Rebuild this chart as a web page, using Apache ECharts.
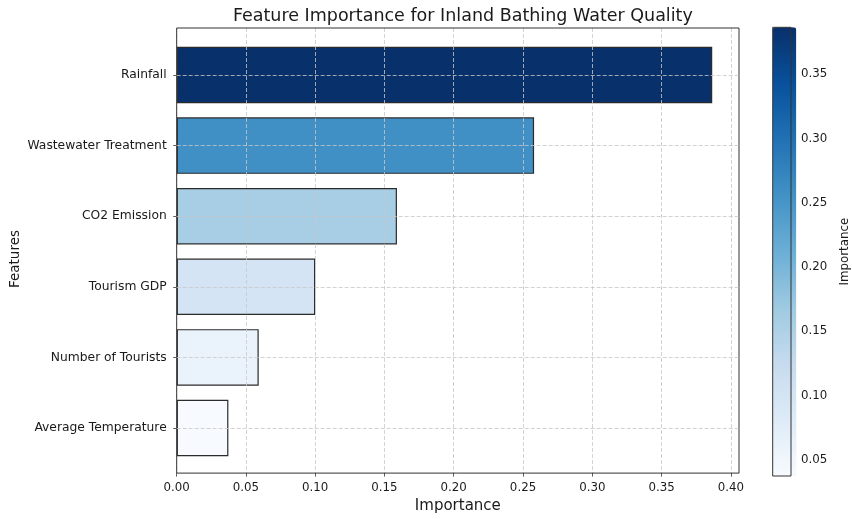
<!DOCTYPE html>
<html>
<head>
<meta charset="utf-8">
<script src="https://cdn.jsdelivr.net/npm/echarts@6/dist/echarts.min.js"></script>
<style>
  html, body { margin: 0; padding: 0; background: #fff; }
  #chart { width: 852px; height: 519px; }
</style>
</head>
<body>
<div id="chart"></div>
<script>
// Features listed bottom to top, as the category axis stacks them
const features = ['Average Temperature', 'Number of Tourists', 'Tourism GDP', 'CO2 Emission', 'Wastewater Treatment', 'Rainfall'];
const importance = [0.0373, 0.0592, 0.1000, 0.1590, 0.2580, 0.3866];
const xTicks = [0.00, 0.05, 0.10, 0.15, 0.20, 0.25, 0.30, 0.35, 0.40];
const cbTicks = [0.05, 0.10, 0.15, 0.20, 0.25, 0.30, 0.35];

// Matplotlib "Blues" colormap stops
const blues = ['#f7fbff', '#deebf7', '#c6dbef', '#9ecae1', '#6baed6', '#4292c6', '#2171b5', '#08519c', '#08306b'];

const vMin = Math.min(...importance);
const vMax = Math.max(...importance);
const xMax = vMax * 1.05;

const FONT = 'DejaVu Sans';
const TXT = '#1a1a1a';
const GRID_LINE = { color: '#c8c8c8', width: 0.8, type: [4, 2] };

// Plot frame
const plot = { left: 176.7, top: 28, width: 562.3, height: 448 };
// Bar band area inside the frame (matplotlib-style margins above and below)
const band = { left: 176.7, top: 39.7, width: 562.3, height: 423.6 };
// Colorbar
const cb = { left: 772.7, top: 27.3, width: 23.6, height: 448.7 };

const chart = echarts.init(document.getElementById('chart'));

chart.setOption({
  animation: false,
  backgroundColor: '#ffffff',
  textStyle: { fontFamily: FONT },
  title: {
    text: 'Feature Importance for Inland Bathing Water Quality',
    left: plot.left + plot.width / 2,
    textAlign: 'center',
    top: 2,
    textStyle: { fontFamily: FONT, fontSize: 17.5, fontWeight: 'normal', color: TXT }
  },
  graphic: [
    {
      type: 'text',
      x: 15, y: 259,
      rotation: Math.PI / 2,
      style: {
        text: 'Features', fontFamily: FONT, fontSize: 13.5, fill: TXT,
        align: 'center', verticalAlign: 'middle'
      }
    }
  ],
  grid: [
    { left: plot.left, top: plot.top, width: plot.width, height: plot.height,
      show: true, z: 5, borderColor: '#333333', borderWidth: 1, backgroundColor: 'transparent' },
    { left: band.left, top: band.top, width: band.width, height: band.height },
    { left: cb.left, top: cb.top, width: cb.width, height: cb.height,
      show: true, z: 6, borderColor: '#333333', borderWidth: 1, backgroundColor: 'transparent' }
  ],
  xAxis: [
    {
      gridIndex: 0, type: 'value', min: 0, max: xMax, interval: 0.05, z: 3,
      axisLine: { show: false },
      axisTick: { show: true, customValues: xTicks, length: 3.5, lineStyle: { color: '#333333', width: 0.8 } },
      axisLabel: { customValues: xTicks, formatter: v => v.toFixed(2), color: TXT, fontSize: 11.8, fontFamily: FONT, margin: 9 },
      splitLine: { show: true, lineStyle: GRID_LINE },
      name: 'Importance', nameLocation: 'middle', nameGap: 25,
      nameTextStyle: { fontSize: 15, color: TXT, fontFamily: FONT }
    },
    { gridIndex: 1, type: 'value', min: 0, max: xMax, show: false },
    { gridIndex: 2, type: 'value', min: 0, max: 1, show: false }
  ],
  yAxis: [
    { gridIndex: 0, type: 'value', min: 0, max: 1, show: false },
    {
      gridIndex: 1, type: 'category', data: features,
      axisLine: { show: false },
      axisTick: { show: true, alignWithLabel: true, length: 3.5, lineStyle: { color: '#333333', width: 0.8 } },
      axisLabel: { color: TXT, fontSize: 12.3, fontFamily: FONT, margin: 10 },
      splitLine: { show: false }
    },
    {
      gridIndex: 2, type: 'value', position: 'right', min: vMin, max: vMax,
      axisLine: { show: false },
      axisTick: { show: true, customValues: cbTicks, length: 3.5, lineStyle: { color: '#333333', width: 0.8 } },
      axisLabel: { customValues: cbTicks, formatter: v => v.toFixed(2), color: TXT, fontSize: 11.8, fontFamily: FONT, margin: 10 },
      splitLine: { show: false },
      name: 'Importance', nameLocation: 'middle', nameGap: 48, nameRotate: 90,
      nameTextStyle: { fontSize: 11.8, color: TXT, fontFamily: FONT }
    }
  ],
  visualMap: {
    type: 'continuous',
    seriesIndex: 0,
    dimension: 0,
    min: vMin,
    max: vMax,
    inRange: { color: blues },
    calculable: false,
    hoverLink: false,
    left: cb.left,
    top: cb.top,
    itemWidth: cb.width,
    itemHeight: cb.height,
    padding: 0,
    text: null,
    orient: 'vertical'
  },
  series: [
    {
      type: 'bar',
      xAxisIndex: 1,
      yAxisIndex: 1,
      barWidth: '80%',
      data: importance.map((v, i) => [v, features[i]]),
      encode: { x: 0, y: 1 },
      itemStyle: { borderColor: '#2b2b2b', borderWidth: 1.2 },
      silent: true,
      markLine: {
        silent: true,
        symbol: 'none',
        label: { show: false },
        lineStyle: GRID_LINE,
        data: features.map(f => ({ yAxis: f }))
      }
    }
  ]
});
</script>
</body>
</html>
